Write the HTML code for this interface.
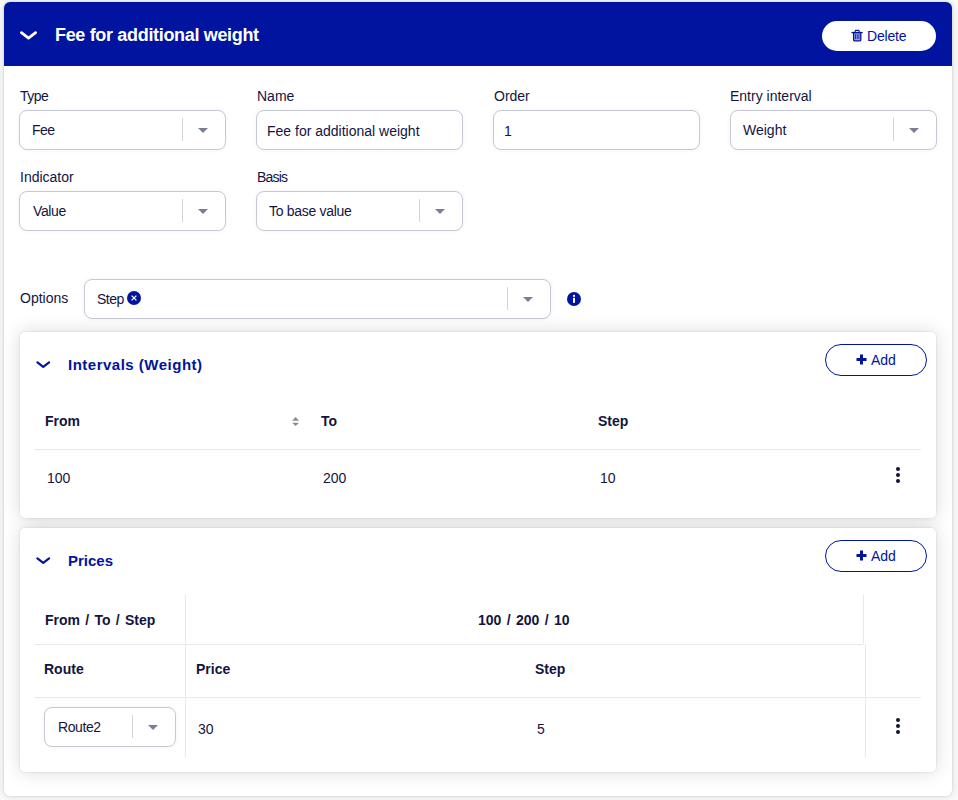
<!DOCTYPE html>
<html><head><meta charset="utf-8">
<style>
*{box-sizing:border-box;margin:0;padding:0}
html,body{width:958px;height:800px;overflow:hidden}
body{background:#f9f9f9;font-family:"Liberation Sans",Arial,sans-serif;color:#13153f;position:relative}
.abs{position:absolute}
.card{position:absolute;left:4px;top:2px;width:948px;height:794px;background:#fff;border-radius:6px;box-shadow:0 0 2px rgba(0,0,0,.16),0 0 8px rgba(0,0,0,.12)}
.hdr{position:absolute;left:4px;top:2px;width:948px;height:64px;background:#0014a0;border-radius:6px 6px 0 0}
.t{position:absolute;white-space:nowrap;line-height:1}
.lbl{font-size:14px;color:#13153f}
.box{position:absolute;height:40px;border:1px solid #c6c8d4;border-radius:8px;background:#fff;box-shadow:0 0 5px rgba(0,0,0,.05)}
.sep{position:absolute;width:1px;background:#d2d3dc}
.tri{position:absolute;width:0;height:0;border-left:5px solid transparent;border-right:5px solid transparent;border-top:5px solid #7b7e97}
.sub{position:absolute;background:#fff;border-radius:5px;box-shadow:0 0 1px rgba(0,0,0,.24),0 0 4px rgba(0,0,0,.05),0 0 20px rgba(0,0,0,.14)}
.nosh{box-shadow:none}
.btn{position:absolute;border-radius:20px;background:#fff}
.th{font-size:14px;font-weight:bold;color:#13153f}
.td{font-size:14px;color:#13153f}
.hl{position:absolute;height:1px;background:#e9e9ed}
.vl{position:absolute;width:1px;background:#e9e9ed}
.kebab{position:absolute;width:4px}
.kebab i{display:block;width:4px;height:4px;border-radius:50%;background:#111433;margin-bottom:2px}
</style></head><body>
<div class="card"></div>
<div class="hdr"></div>
<!-- header chevron -->
<svg class="abs" style="left:19px;top:29px" width="20" height="12" viewBox="0 0 20 12"><path d="M2.4 3.7 L9.5 9.1 L16.6 3.7" fill="none" stroke="#fff" stroke-width="2.8" stroke-linecap="round" stroke-linejoin="round"/></svg>
<div class="t" style="left:55px;top:26px;font-size:18px;font-weight:bold;color:#fff;letter-spacing:-0.33px">Fee for additional weight</div>
<div class="btn" style="left:822px;top:21px;width:114px;height:30px"></div>
<svg class="abs" style="left:851px;top:29px" width="13" height="14" viewBox="0 0 13 14"><path d="M4 3 L4.6 1.4 H7.8 L8.4 3" fill="none" stroke="#0014a0" stroke-width="1.1"/><rect x="0.4" y="2.9" width="11.3" height="1.3" fill="#0014a0"/><rect x="2.6" y="3.6" width="7.2" height="8.2" rx="0.8" fill="#0014a0" fill-opacity="0.35" stroke="#0014a0" stroke-width="1.3"/><path d="M4.5 5.2V10.2M6.2 5.2V10.2M7.9 5.2V10.2" stroke="#0014a0" stroke-width="0.8"/></svg>
<div class="t" style="left:867px;top:29px;font-size:14px;color:#0014a0;letter-spacing:-0.2px">Delete</div>

<!-- row 1 -->
<div class="t lbl" style="left:20px;top:89px;letter-spacing:-0.5px">Type</div>
<div class="t lbl" style="left:257px;top:89px">Name</div>
<div class="t lbl" style="left:494px;top:89px">Order</div>
<div class="t lbl" style="left:730px;top:89px">Entry interval</div>

<div class="box" style="left:19px;top:110px;width:207px"></div>
<div class="t td" style="left:32px;top:123px;letter-spacing:-0.5px">Fee</div>
<div class="sep" style="left:182px;top:118px;height:23px"></div>
<div class="tri" style="left:198px;top:128px"></div>

<div class="box" style="left:256px;top:110px;width:207px"></div>
<div class="t td" style="left:267px;top:124px">Fee for additional weight</div>

<div class="box" style="left:493px;top:110px;width:207px"></div>
<div class="t td" style="left:504px;top:124px">1</div>

<div class="box" style="left:730px;top:110px;width:207px"></div>
<div class="t td" style="left:743px;top:123px">Weight</div>
<div class="sep" style="left:893px;top:118px;height:23px"></div>
<div class="tri" style="left:909px;top:128px"></div>

<!-- row 2 -->
<div class="t lbl" style="left:20px;top:170px">Indicator</div>
<div class="t lbl" style="left:257px;top:170px;letter-spacing:-0.8px">Basis</div>
<div class="box" style="left:19px;top:191px;width:207px"></div>
<div class="t td" style="left:33px;top:204px;letter-spacing:-0.4px">Value</div>
<div class="sep" style="left:182px;top:199px;height:23px"></div>
<div class="tri" style="left:198px;top:209px"></div>
<div class="box" style="left:256px;top:191px;width:207px"></div>
<div class="t td" style="left:269px;top:204px;letter-spacing:-0.3px">To base value</div>
<div class="sep" style="left:419px;top:199px;height:23px"></div>
<div class="tri" style="left:435px;top:209px"></div>

<!-- options -->
<div class="t lbl" style="left:20px;top:291px">Options</div>
<div class="box" style="left:84px;top:279px;width:467px"></div>
<div class="t td" style="left:97px;top:292px;letter-spacing:-0.5px">Step</div>
<svg class="abs" style="left:127.4px;top:290.8px" width="14" height="14" viewBox="0 0 14 14"><circle cx="7" cy="7" r="7" fill="#0014a0"/><path d="M4.6 4.6l4.8 4.8M9.4 4.6l-4.8 4.8" stroke="#fff" stroke-width="1.3"/></svg>
<div class="sep" style="left:507px;top:287px;height:23px"></div>
<div class="tri" style="left:523px;top:297px"></div>
<svg class="abs" style="left:567px;top:292px" width="14" height="14" viewBox="0 0 14 14"><circle cx="7" cy="7" r="7" fill="#0014a0"/><rect x="6" y="5.8" width="2" height="5" fill="#fff"/><circle cx="7" cy="3.9" r="1.1" fill="#fff"/></svg>

<!-- intervals card -->
<div class="sub" style="left:20px;top:332px;width:916px;height:186px"></div>
<div class="sub" style="left:20px;top:528px;width:916px;height:244px"></div>
<div class="sub nosh" style="left:20px;top:332px;width:916px;height:186px"></div>
<div class="sub nosh" style="left:20px;top:528px;width:916px;height:244px"></div>
<svg class="abs" style="left:35px;top:358px" width="17" height="12" viewBox="0 0 17 12"><path d="M2.4 4.4 L8.25 8.9 L14.1 4.4" fill="none" stroke="#0014a0" stroke-width="2.2" stroke-linecap="round" stroke-linejoin="round"/></svg>
<div class="t" style="left:68px;top:357px;font-size:15px;font-weight:bold;color:#0014a0;letter-spacing:0.5px">Intervals (Weight)</div>
<div class="btn" style="left:825px;top:344px;width:102px;height:32px;border:1px solid #0014a0"></div>
<svg class="abs" style="left:856px;top:354px" width="11" height="11" viewBox="0 0 11 11"><path d="M5.5 0.5v10M0.5 5.5h10" stroke="#0014a0" stroke-width="3"/></svg>
<div class="t" style="left:871px;top:353px;font-size:14px;color:#0014a0">Add</div>

<div class="t th" style="left:45px;top:414px">From</div>
<svg class="abs" style="left:291px;top:416px" width="9" height="11" viewBox="0 0 9 11"><path d="M4.6 0.9L8 4.8H1.1z M1.1 6.8H8L4.6 10z" fill="#8a8a8e"/></svg>
<div class="t th" style="left:321px;top:414px">To</div>
<div class="t th" style="left:598px;top:414px">Step</div>
<div class="hl" style="left:35px;top:449px;width:886px"></div>
<div class="t td" style="left:47px;top:471px">100</div>
<div class="t td" style="left:323px;top:471px">200</div>
<div class="t td" style="left:600px;top:471px">10</div>
<div class="kebab" style="left:896px;top:467px"><i></i><i></i><i></i></div>

<!-- prices card -->

<svg class="abs" style="left:35px;top:554px" width="17" height="12" viewBox="0 0 17 12"><path d="M2.4 4.4 L8.25 8.9 L14.1 4.4" fill="none" stroke="#0014a0" stroke-width="2.2" stroke-linecap="round" stroke-linejoin="round"/></svg>
<div class="t" style="left:68px;top:553px;font-size:15px;font-weight:bold;color:#0014a0">Prices</div>
<div class="btn" style="left:825px;top:540px;width:102px;height:32px;border:1px solid #0014a0"></div>
<svg class="abs" style="left:856px;top:550px" width="11" height="11" viewBox="0 0 11 11"><path d="M5.5 0.5v10M0.5 5.5h10" stroke="#0014a0" stroke-width="3"/></svg>
<div class="t" style="left:871px;top:549px;font-size:14px;color:#0014a0">Add</div>

<div class="vl" style="left:185px;top:595px;height:162px"></div>
<div class="vl" style="left:863px;top:595px;height:49px"></div>
<div class="vl" style="left:865px;top:644px;height:113px"></div>
<div class="hl" style="left:35px;top:644px;width:828px"></div>
<div class="hl" style="left:35px;top:697px;width:886px"></div>
<div class="t th" style="left:45px;top:613px;word-spacing:1.4px">From / To / Step</div>
<div class="t th" style="left:478px;top:613px;word-spacing:1.5px">100 / 200 / 10</div>
<div class="t th" style="left:44px;top:662px">Route</div>
<div class="t th" style="left:196px;top:662px">Price</div>
<div class="t th" style="left:535px;top:662px">Step</div>
<div class="box" style="left:44px;top:707px;width:132px"></div>
<div class="t td" style="left:58px;top:720px;letter-spacing:-0.4px">Route2</div>
<div class="sep" style="left:132px;top:715px;height:23px"></div>
<div class="tri" style="left:148px;top:725px"></div>
<div class="t td" style="left:198px;top:722px">30</div>
<div class="t td" style="left:537px;top:722px">5</div>
<div class="kebab" style="left:896px;top:718px"><i></i><i></i><i></i></div>
</body></html>
